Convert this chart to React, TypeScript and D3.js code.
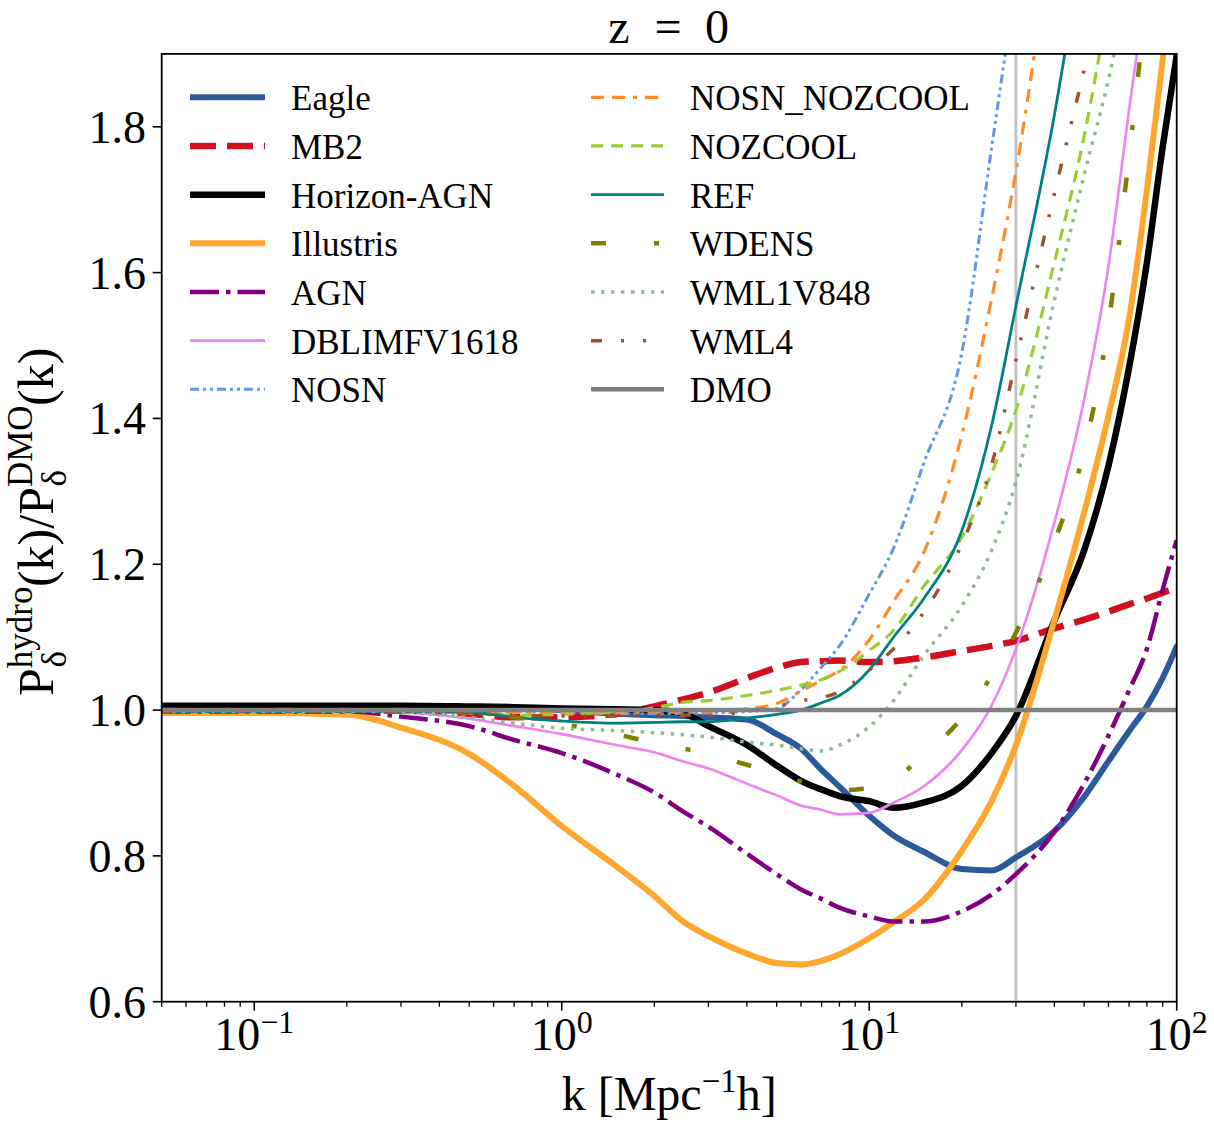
import React from 'react';
import * as d3 from 'd3';

// wavenumber grid [Mpc^-1 h]
const kGrid = [0.05, 0.1, 0.2, 0.3, 0.5, 0.7, 1, 1.5, 2, 2.5, 3, 4, 5, 6, 7, 8, 10, 12, 15, 20, 25, 30, 40, 50, 60, 70, 80, 90, 100];

// P_hydro / P_DMO ratios (null = off the top of the plot)
const eagle = [1.004, 1.004, 1.004, 1.004, 1.004, 1.003, 1.0, 0.995, 0.993, 0.992, 0.990, 0.987, 0.967, 0.947, 0.918, 0.895, 0.855, 0.828, 0.806, 0.782, 0.780, 0.798, 0.834, 0.881, 0.930, 0.971, 1.005, 1.044, 1.087];
const mb2 = [1.0, 1.0, 1.0, 0.999, 0.995, 0.99, 0.99, 0.995, 1.005, 1.015, 1.024, 1.044, 1.058, 1.066, 1.067, 1.068, 1.066, 1.067, 1.072, 1.081, 1.088, 1.095, 1.112, 1.124, 1.135, 1.145, 1.153, 1.161, 1.168];
const horizonAgn = [1.006, 1.006, 1.006, 1.006, 1.005, 1.004, 1.002, 1.001, 1.0, 0.995, 0.978, 0.952, 0.924, 0.903, 0.891, 0.882, 0.875, 0.866, 0.873, 0.896, 0.941, 0.992, 1.123, 1.219, 1.335, 1.470, 1.614, 1.772, 1.898];
const illustris = [0.996, 0.996, 0.994, 0.976, 0.940, 0.896, 0.841, 0.786, 0.745, 0.709, 0.690, 0.666, 0.653, 0.651, 0.656, 0.665, 0.687, 0.709, 0.739, 0.807, 0.875, 0.952, 1.123, 1.271, 1.404, 1.537, 1.713, 1.892, 2.05];
const agn = [0.998, 0.998, 0.998, 0.991, 0.978, 0.959, 0.941, 0.912, 0.887, 0.860, 0.840, 0.803, 0.775, 0.754, 0.741, 0.729, 0.717, 0.710, 0.710, 0.724, 0.747, 0.775, 0.833, 0.899, 0.965, 1.027, 1.084, 1.165, 1.233];
const dblimfv1618 = [0.999, 0.999, 0.999, 0.997, 0.988, 0.978, 0.967, 0.952, 0.942, 0.929, 0.920, 0.899, 0.883, 0.869, 0.863, 0.857, 0.859, 0.873, 0.895, 0.945, 1.006, 1.084, 1.257, 1.426, 1.609, 1.823, 2.0, null, null];
const nosn = [1.0, 1.0, 1.0, 1.0, 0.999, 0.998, 0.997, 0.995, 0.995, 0.995, 0.996, 0.998, 1.002, 1.028, 1.059, 1.088, 1.159, 1.222, 1.337, 1.49, 1.771, 2.0, null, null, null, null, null, null, null];
const nosnNozcool = [0.999, 0.999, 0.999, 0.999, 0.998, 0.997, 0.996, 0.996, 0.997, 0.997, 0.998, 1.002, 1.009, 1.026, 1.041, 1.054, 1.096, 1.149, 1.215, 1.377, 1.564, 1.739, 2.09, null, null, null, null, null, null];
const nozcool = [1.0, 1.0, 1.0, 0.999, 0.996, 0.993, 0.994, 0.998, 1.003, 1.011, 1.013, 1.020, 1.027, 1.034, 1.042, 1.053, 1.082, 1.109, 1.169, 1.237, 1.325, 1.411, 1.614, 1.787, 1.97, null, null, null, null];
const ref = [0.998, 0.998, 0.998, 0.998, 0.997, 0.99, 0.985, 0.982, 0.983, 0.984, 0.984, 0.989, 0.994, 1.0, 1.010, 1.020, 1.055, 1.100, 1.152, 1.246, 1.39, 1.554, 1.816, 2.065, null, null, null, null, null];
const wdens = [1.0, 1.0, 1.0, 1.0, 0.995, 0.99, 0.981, 0.967, 0.955, 0.947, 0.94, 0.925, 0.913, 0.902, 0.895, 0.890, 0.893, 0.905, 0.938, 0.989, 1.047, 1.106, 1.231, 1.356, 1.530, 1.760, 1.98, null, null];
const wml1v848 = [0.998, 0.998, 0.998, 0.998, 0.99, 0.982, 0.975, 0.972, 0.969, 0.966, 0.963, 0.956, 0.952, 0.947, 0.944, 0.952, 0.977, 1.013, 1.074, 1.143, 1.219, 1.313, 1.562, 1.734, 1.865, 2.0, null, null, null];
const wml4 = [0.998, 0.998, 0.998, 0.997, 0.995, 0.993, 0.992, 0.992, 0.993, 0.993, 0.993, 0.998, 1.005, 1.013, 1.017, 1.025, 1.055, 1.084, 1.133, 1.228, 1.336, 1.48, 1.708, 1.878, 2.02, null, null, null, null];
const kDmo = [0.05, 100];
const dmo = [1.0, 1.0];
const kCut = 30;

const seriesNames = ['Eagle', 'MB2', 'Horizon-AGN', 'Illustris', 'AGN', 'DBLIMFV1618', 'NOSN', 'NOSN_NOZCOOL', 'NOZCOOL', 'REF', 'WDENS', 'WML1V848', 'WML4', 'DMO'];

const xTicks = [0.1, 1, 10, 100];
const xTickExp = ['\u22121', '0', '1', '2'];
const yTicks = [0.6, 0.8, 1.0, 1.2, 1.4, 1.6, 1.8];
const yTickLabels = ['0.6', '0.8', '1.0', '1.2', '1.4', '1.6', '1.8'];

const FONT = '"Liberation Serif", "Times New Roman", serif';

export default function App() {
  const W = 1214, H = 1126;
  const L = 161.7, R = 1176.7, T = 53.9, B = 1001.7;
  const x = d3.scaleLog().domain([0.05, 100]).range([L, R]);
  const y = d3.scaleLinear().domain([0.6, 1.9]).range([B, T]);

  const styles: Record<string, { color: string; width: number; dash?: string }> = {
    'Eagle': { color: '#2b5a9b', width: 6 },
    'MB2': { color: '#d0101e', width: 6.5, dash: '26 11' },
    'Horizon-AGN': { color: '#000000', width: 6.5 },
    'Illustris': { color: '#ffa62f', width: 6 },
    'AGN': { color: '#800080', width: 4.5, dash: '29 7 4.5 7' },
    'DBLIMFV1618': { color: '#ee82ee', width: 2.6 },
    'NOSN': { color: '#6495ed', width: 3, dash: '9 4 3 4 3 4' },
    'NOSN_NOZCOOL': { color: '#ff8c28', width: 3.2, dash: '13 8 13 8 4 8' },
    'NOZCOOL': { color: '#9acd32', width: 3.2, dash: '12 8' },
    'REF': { color: '#008080', width: 2.8 },
    'WDENS': { color: '#808000', width: 4.5, dash: '15 48 5 48' },
    'WML1V848': { color: '#8fbc8f', width: 3.5, dash: '3.5 6.5' },
    'WML4': { color: '#a0522d', width: 3.5, dash: '11 19 3 19 3 19' },
    'DMO': { color: '#808080', width: 4.5 },
  };

  const dataMap: Record<string, { k: number[]; v: (number | null)[] }> = {
    'Eagle': { k: kGrid, v: eagle },
    'MB2': { k: kGrid, v: mb2 },
    'Horizon-AGN': { k: kGrid, v: horizonAgn },
    'Illustris': { k: kGrid, v: illustris },
    'AGN': { k: kGrid, v: agn },
    'DBLIMFV1618': { k: kGrid, v: dblimfv1618 },
    'NOSN': { k: kGrid, v: nosn },
    'NOSN_NOZCOOL': { k: kGrid, v: nosnNozcool },
    'NOZCOOL': { k: kGrid, v: nozcool },
    'REF': { k: kGrid, v: ref },
    'WDENS': { k: kGrid, v: wdens },
    'WML1V848': { k: kGrid, v: wml1v848 },
    'WML4': { k: kGrid, v: wml4 },
    'DMO': { k: kDmo, v: dmo },
  };

  const line = d3
    .line<[number, number | null]>()
    .defined((d) => d[1] !== null)
    .x((d) => x(d[0]))
    .y((d) => y(d[1] as number))
    .curve(d3.curveMonotoneX);

  const minorTicks: number[] = [];
  for (let e = -2; e <= 1; e++) {
    for (let m = 2; m <= 9; m++) {
      const v = m * Math.pow(10, e);
      if (v >= 0.05 - 1e-9 && v <= 100) minorTicks.push(v);
    }
  }

  const rowY = (i: number) => 97.3 + i * 48.67;
  const legendCols = [
    { x0: 190, x1: 265, tx: 291 },
    { x0: 591, x1: 664, tx: 690 },
  ];

  return (
    <svg
      width={W}
      height={H}
      viewBox={`0 0 ${W} ${H}`}
      style={{ position: 'absolute', left: 0, top: 0, background: '#fff' }}
      fontFamily={FONT}
    >
      <rect x={0} y={0} width={W} height={H} fill="#fff" />
      <defs>
        <clipPath id="plotClip">
          <rect x={L} y={T} width={R - L} height={B - T} />
        </clipPath>
      </defs>

      {/* title: z = 0 */}
      <g fontSize={48} fill="#000" textAnchor="middle">
        <text x={619} y={43}>z</text>
        <text x={668} y={43}>=</text>
        <text x={717} y={43}>0</text>
      </g>

      <g clipPath="url(#plotClip)">
        <line x1={x(kCut)} x2={x(kCut)} y1={T} y2={B} stroke="#c0c0c0" strokeWidth={2.8} />
        {seriesNames.map((name) => {
          const s = styles[name];
          const d = dataMap[name];
          const pts: [number, number | null][] = d.k.map((k, i) => [k, d.v[i]]);
          return (
            <path
              key={name}
              d={line(pts) || ''}
              fill="none"
              stroke={s.color}
              strokeWidth={s.width}
              strokeDasharray={s.dash}
              strokeLinejoin="round"
              strokeLinecap={s.dash ? 'butt' : 'round'}
            />
          );
        })}
      </g>

      {/* axes box */}
      <rect x={L} y={T} width={R - L} height={B - T} fill="none" stroke="#000" strokeWidth={1.8} />

      {/* x ticks */}
      {minorTicks.map((t) => (
        <line key={'mx' + t} x1={x(t)} x2={x(t)} y1={B} y2={B + 5} stroke="#000" strokeWidth={1.3} />
      ))}
      {xTicks.map((t, i) => (
        <g key={'xt' + t}>
          <line x1={x(t)} x2={x(t)} y1={B} y2={B + 9} stroke="#000" strokeWidth={1.6} />
          <text x={x(t)} y={1050} textAnchor="middle" fontSize={46} fill="#000">
            10
            <tspan dy={-17} fontSize={32}>
              {xTickExp[i]}
            </tspan>
          </text>
        </g>
      ))}

      {/* y ticks */}
      {yTicks.map((t, i) => (
        <g key={'yt' + t}>
          <line x1={L - 9} x2={L} y1={y(t)} y2={y(t)} stroke="#000" strokeWidth={1.6} />
          <text x={146} y={y(t) + 16} textAnchor="end" fontSize={46} fill="#000">
            {yTickLabels[i]}
          </text>
        </g>
      ))}

      {/* x label */}
      <text x={(L + R) / 2} y={1110} textAnchor="middle" fontSize={48} fill="#000">
        k [Mpc
        <tspan dy={-18} fontSize={33}>
          {'\u22121'}
        </tspan>
        <tspan dy={18}>h]</tspan>
      </text>

      {/* y label */}
      <g transform={`translate(53, ${(T + B) / 2 - 6}) rotate(-90)`}>
        <text x={0} y={0} textAnchor="middle" fontSize={50} fill="#000">
          P
          <tspan dy={-21} fontSize={35}>
            hydro
          </tspan>
          <tspan dx={-81} dy={34} fontSize={35}>
            {'\u03b4'}
          </tspan>
          <tspan dx={64} dy={-13}>
            (k)/P
          </tspan>
          <tspan dy={-21} fontSize={35}>
            DMO
          </tspan>
          <tspan dx={-81} dy={34} fontSize={35}>
            {'\u03b4'}
          </tspan>
          <tspan dx={64} dy={-13}>
            (k)
          </tspan>
        </text>
      </g>

      {/* legend */}
      {seriesNames.map((name, i) => {
        const col = legendCols[i < 7 ? 0 : 1];
        const yy = rowY(i % 7);
        const s = styles[name];
        return (
          <g key={'lg' + name}>
            <line
              x1={col.x0}
              x2={col.x1}
              y1={yy}
              y2={yy}
              stroke={s.color}
              strokeWidth={s.width}
              strokeDasharray={s.dash}
              strokeLinecap="butt"
            />
            <text x={col.tx} y={yy + 13} fontSize={35} fill="#000">
              {name}
            </text>
          </g>
        );
      })}
    </svg>
  );
}
